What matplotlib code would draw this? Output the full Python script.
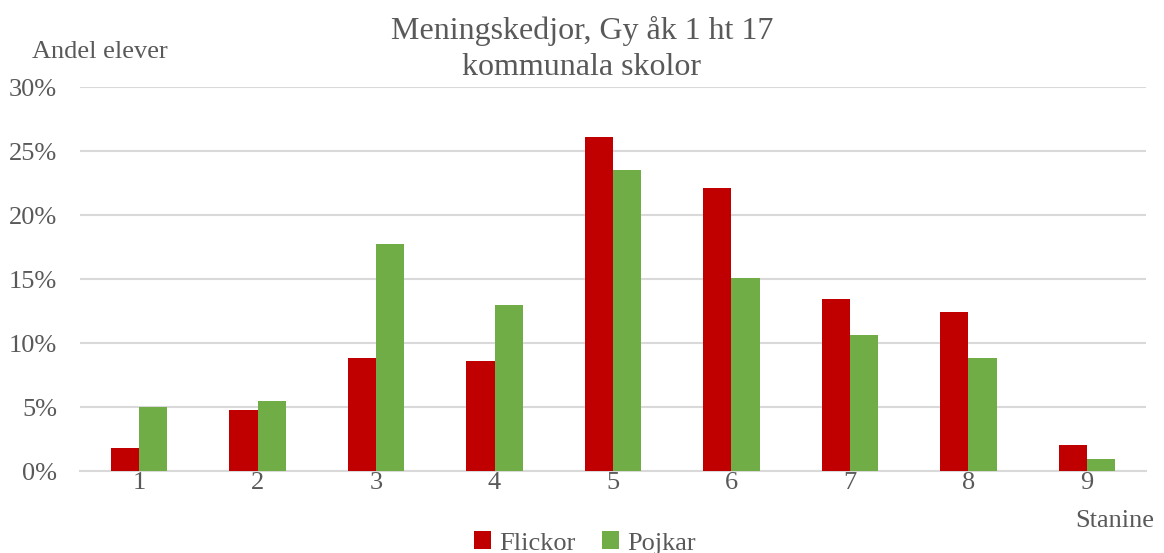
import numpy as np
import matplotlib.pyplot as plt
from matplotlib.ticker import PercentFormatter

stanine = ["1", "2", "3", "4", "5", "6", "7", "8", "9"]
flickor = [1.8, 4.8, 8.8, 8.6, 26.1, 22.1, 13.4, 12.4, 2.0]
pojkar = [5.0, 5.5, 17.7, 13.0, 23.5, 15.1, 10.6, 8.8, 0.9]

txt = "#595959"
plt.rcParams['font.family'] = ['Liberation Serif', 'DejaVu Serif']

fig = plt.figure(figsize=(11.64, 5.53), dpi=100)
ax = fig.add_axes([80 / 1164, 82 / 553, 1066 / 1164, 384 / 553])

x = np.arange(len(stanine))
w = 0.238
ax.bar(x - w / 2, flickor, w, color="#c00000", label="Flickor", zorder=3)
ax.bar(x + w / 2, pojkar, w, color="#70ad47", label="Pojkar", zorder=3)

ax.set_xlim(-0.5, len(stanine) - 0.5)
ax.set_ylim(0, 30)
ax.set_yticks(range(0, 31, 5))
ax.yaxis.set_major_formatter(PercentFormatter(decimals=0))
ax.set_xticks(x)
ax.set_xticklabels(stanine)
ax.grid(axis="y", color="#d9d9d9", linewidth=1.5, zorder=0)
for s in ["top", "right", "left"]:
    ax.spines[s].set_visible(False)
ax.spines["bottom"].set_color("#d9d9d9")
ax.spines["bottom"].set_linewidth(1.5)
ax.tick_params(axis="both", length=0, labelsize=19, labelcolor=txt)
ax.tick_params(axis="y", pad=16.5)
ax.tick_params(axis="x", pad=0.5)

fig.text(0.5, 1 - 49 / 553, "Meningskedjor, Gy åk 1 ht 17\nkommunala skolor",
         ha="center", va="center", fontsize=23, color=txt, linespacing=1.3)
fig.text(32 / 1164, 1 - 52 / 553, "Andel elever", ha="left", va="center",
         fontsize=19, color=txt)
fig.text(1154 / 1164, 1 - 521 / 553, "Stanine", ha="right", va="center",
         fontsize=19, color=txt)

fig.legend(loc="center", bbox_to_anchor=(585 / 1164, 1 - 543 / 553), ncol=2,
           frameon=False, fontsize=19, labelcolor=txt, handlelength=0.65,
           handleheight=0.65, handletextpad=0.3, columnspacing=1.0)

fig.savefig("out.png", dpi=100)
